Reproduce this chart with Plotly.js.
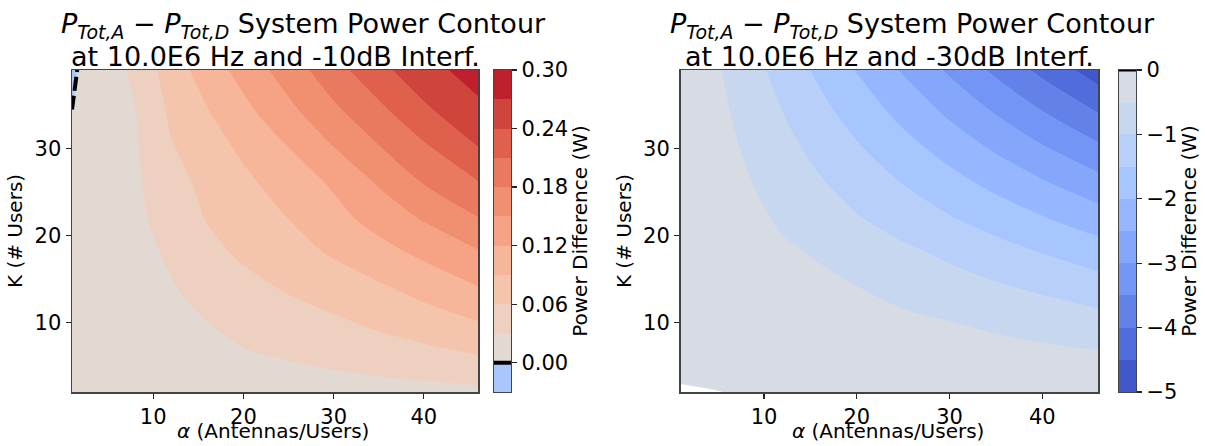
<!DOCTYPE html>
<html>
<head>
<meta charset="utf-8">
<script src="https://cdn.plot.ly/plotly-3.0.1.min.js"></script>
<style>
html,body{margin:0;padding:0;background:#ffffff;}
#chart{width:1205px;height:446px;}
</style>
</head>
<body>
<div id="chart"></div>
<script>
// ---- data ----
const alphaVals = [1, 4, 8, 12, 16, 20, 25, 30, 35, 40, 46];   // α (Antennas/Users)
const usersK    = [2, 4, 7, 10, 14, 18, 22, 26, 30, 34, 39];    // K (# Users)

// Left panel: power difference (W), -10 dB interference (rows follow usersK)
const diffMinus10dB = [
  [0.0005, 0.0020, 0.0040, 0.0060, 0.0080, 0.0100, 0.0125, 0.0150, 0.0175, 0.0200, 0.0234],
  [0.0010, 0.0037, 0.0073, 0.0109, 0.0145, 0.0181, 0.0226, 0.0271, 0.0315, 0.0357, 0.0408],
  [0.0020, 0.0064, 0.0122, 0.0180, 0.0239, 0.0297, 0.0363, 0.0429, 0.0495, 0.0561, 0.0660],
  [0.0020, 0.0076, 0.0150, 0.0224, 0.0298, 0.0371, 0.0463, 0.0554, 0.0654, 0.0761, 0.0890],
  [0.0020, 0.0092, 0.0189, 0.0285, 0.0394, 0.0504, 0.0634, 0.0747, 0.0859, 0.1002, 0.1190],
  [0.0020, 0.0103, 0.0214, 0.0339, 0.0510, 0.0652, 0.0790, 0.0932, 0.1094, 0.1264, 0.1470],
  [0.0020, 0.0114, 0.0240, 0.0415, 0.0619, 0.0745, 0.0904, 0.1104, 0.1313, 0.1530, 0.1790],
  [0.0020, 0.0121, 0.0256, 0.0484, 0.0686, 0.0836, 0.1030, 0.1240, 0.1528, 0.1810, 0.2080],
  [0.0010, 0.0122, 0.0272, 0.0575, 0.0768, 0.0953, 0.1195, 0.1488, 0.1777, 0.2042, 0.2390],
  [0.0003, 0.0124, 0.0290, 0.0651, 0.0877, 0.1108, 0.1408, 0.1723, 0.2000, 0.2330, 0.2600],
  [-0.0030, 0.0125, 0.0359, 0.0752, 0.1040, 0.1309, 0.1647, 0.1980, 0.2323, 0.2572, 0.2850]
];

// Right panel: power difference (W), -30 dB interference (rows follow usersK)
const diffMinus30dB = [
  [0.010, 0.004, -0.006, -0.026, -0.035, -0.044, -0.055, -0.067, -0.078, -0.089, -0.103],
  [-0.012, -0.018, -0.041, -0.063, -0.085, -0.107, -0.135, -0.163, -0.191, -0.219, -0.252],
  [-0.013, -0.038, -0.084, -0.129, -0.175, -0.221, -0.278, -0.335, -0.393, -0.450, -0.519],
  [-0.015, -0.060, -0.132, -0.205, -0.270, -0.340, -0.410, -0.490, -0.580, -0.690, -0.822],
  [-0.017, -0.092, -0.204, -0.310, -0.410, -0.490, -0.640, -0.800, -0.940, -1.080, -1.268],
  [-0.019, -0.128, -0.283, -0.430, -0.540, -0.700, -0.900, -1.090, -1.300, -1.510, -1.753],
  [-0.021, -0.166, -0.366, -0.567, -0.767, -0.968, -1.219, -1.469, -1.720, -1.971, -2.272],
  [-0.024, -0.205, -0.454, -0.703, -0.952, -1.200, -1.511, -1.822, -2.133, -2.444, -2.818],
  [-0.027, -0.247, -0.546, -0.845, -1.145, -1.444, -1.818, -2.192, -2.566, -2.940, -3.389],
  [-0.030, -0.290, -0.642, -0.993, -1.345, -1.697, -2.136, -2.576, -3.015, -3.455, -3.983],
  [-0.034, -0.347, -0.767, -1.187, -1.607, -2.026, -2.551, -3.076, -3.601, -4.126, -4.756]
];

// contour levels (boundaries of the filled bands)
const levelsLeft  = [-0.03, 0, 0.03, 0.06, 0.09, 0.12, 0.15, 0.18, 0.21, 0.24, 0.27, 0.30];
const levelsRight = [-5, -4.5, -4, -3.5, -3, -2.5, -2, -1.5, -1, -0.5, 0];

// colorbar ticks
const cbTicksLeft  = [0, 0.06, 0.12, 0.18, 0.24, 0.30];
const cbLabelsLeft = ['0.00', '0.06', '0.12', '0.18', '0.24', '0.30'];
const cbTicksRight  = [-5, -4, -3, -2, -1, 0];
const cbLabelsRight = ['\u22125', '\u22124', '\u22123', '\u22122', '\u22121', '0'];

const xTicks = [10, 20, 30, 40];
const yTicks = [10, 20, 30];

// band colours (bottom band to top band)
const colorsLeft = ['#aac7fd', '#e3d9d3', '#eed0c0', '#f5c4ac', '#f7b599', '#f6a385',
                    '#f18f71', '#e9795f', '#de604d', '#cf453c', '#be212d'];
const colorsRight = ['#4257ca', '#516ddb', '#6282ea', '#7395f5', '#84a7fc',
                     '#96b7ff', '#a7c5fe', '#b8d0f9', '#c8d7f0', '#d7dbe4'];

function bandScale(cols) {
  return cols.map((c, i) => [i / (cols.length - 1), c]);
}
// inner levels for the contour trace: all boundaries except the outer two
function contourSpec(levels) {
  const inner = levels.slice(1, -1);
  return {start: inner[0], end: inner[inner.length - 1], size: levels[1] - levels[0],
          coloring: 'fill', showlines: false};
}

// ---- layout helpers (pixels -> paper) ----
const W = 1205, H = 446;
const px = v => v / W;
const py = v => 1 - v / H;

const FONT = 'DejaVu Sans, Liberation Sans, sans-serif';
const TICK = 21, LABEL = 20, TITLE = 27;
const AXC = '#444';

const traces = [
  {
    type: 'contour', x: alphaVals, y: usersK, z: diffMinus10dB,
    xaxis: 'x', yaxis: 'y',
    autocontour: false, contours: contourSpec(levelsLeft),
    colorscale: bandScale(colorsLeft),
    line: {width: 0, smoothing: 1},
    showscale: false, hoverinfo: 'skip'
  },
  {
    type: 'contour', x: alphaVals, y: usersK, z: diffMinus10dB,
    xaxis: 'x', yaxis: 'y',
    autocontour: false, contours: {start: 0, end: 0, size: 1, coloring: 'none', showlines: true},
    line: {color: '#000000', width: 4, dash: '14px,5px', smoothing: 1},
    showscale: false, hoverinfo: 'skip'
  },
  {
    type: 'contour', x: alphaVals, y: usersK, z: diffMinus30dB,
    xaxis: 'x2', yaxis: 'y2',
    autocontour: false, contours: contourSpec(levelsRight),
    colorscale: bandScale(colorsRight),
    line: {width: 0, smoothing: 1},
    showscale: false, hoverinfo: 'skip'
  },
  {
    type: 'contour', x: alphaVals, y: usersK, z: diffMinus30dB,
    xaxis: 'x2', yaxis: 'y2',
    contours: {type: 'constraint', operation: '<', value: 0},
    fillcolor: '#ffffff', line: {width: 0, smoothing: 1},
    showscale: false, hoverinfo: 'skip'
  },
  // colour bars drawn as band heatmaps on their own axes
  {
    type: 'heatmap', x: [0], y: levelsLeft,
    z: colorsLeft.map((c, i) => [i]), zmin: 0, zmax: colorsLeft.length - 1,
    colorscale: bandScale(colorsLeft), showscale: false,
    xaxis: 'x3', yaxis: 'y3', hoverinfo: 'skip'
  },
  {
    type: 'heatmap', x: [0], y: levelsRight,
    z: colorsRight.map((c, i) => [i]), zmin: 0, zmax: colorsRight.length - 1,
    colorscale: bandScale(colorsRight), showscale: false,
    xaxis: 'x4', yaxis: 'y4', hoverinfo: 'skip'
  }
];

function xAxis(domain, anchor) {
  return {
    domain: domain, anchor: anchor, range: [1, 46], tickvals: xTicks,
    ticks: 'outside', ticklen: 5, tickwidth: 1.2, tickcolor: '#222',
    showline: true, mirror: true, linecolor: AXC, linewidth: 1.5,
    showgrid: false, zeroline: false, automargin: false,
    tickfont: {size: TICK, family: FONT, color: '#000'}
  };
}
function yAxis(domain, anchor) {
  return {
    domain: domain, anchor: anchor, range: [2, 39], tickvals: yTicks,
    ticks: 'outside', ticklen: 5, tickwidth: 1.2, tickcolor: '#222',
    showline: true, mirror: true, linecolor: AXC, linewidth: 1.5,
    showgrid: false, zeroline: false, automargin: false,
    tickfont: {size: TICK, family: FONT, color: '#000'},
    title: {text: 'K (# Users)', font: {size: LABEL, family: FONT, color: '#000'}, standoff: 6}
  };
}
function cbX(domain, anchor) {
  return {domain: domain, anchor: anchor, range: [-0.5, 0.5], showticklabels: false, ticks: '',
          showline: true, mirror: true, linecolor: AXC, linewidth: 1.2, showgrid: false, zeroline: false,
          automargin: false};
}
function cbY(domain, anchor, levels, tickvals, ticktext) {
  return {domain: domain, anchor: anchor, side: 'right', range: [levels[0], levels[levels.length - 1]],
          tickvals: tickvals, ticktext: ticktext,
          ticks: 'outside', ticklen: 5, tickwidth: 1.2, tickcolor: '#222',
          showline: true, mirror: true, linecolor: AXC, linewidth: 1.2, showgrid: false, zeroline: false,
          automargin: false,
          tickfont: {size: TICK, family: FONT, color: '#000'},
          title: {text: 'Power Difference (W)', font: {size: LABEL, family: FONT, color: '#000'}, standoff: 3}};
}

const yDom = [py(392), py(70)];
const titleMain = '<i>P</i><sub><i>Tot,A</i></sub> \u2212 <i>P</i><sub><i>Tot,D</i></sub> System Power Contour';
const xTitle = '<i>\u03b1</i> (Antennas/Users)';

function note(xPix, yPix, text, size, yanchor) {
  return {xref: 'paper', yref: 'paper', x: px(xPix), y: py(yPix), xanchor: 'center', yanchor: yanchor || 'middle',
          text: text, showarrow: false, font: {size: size, family: FONT, color: '#000'}};
}

const layout = {
  width: W, height: H,
  margin: {l: 0, r: 0, t: 0, b: 0},
  paper_bgcolor: '#ffffff', plot_bgcolor: '#ffffff',
  font: {family: FONT, size: TICK, color: '#000'},
  showlegend: false,
  xaxis: xAxis([px(72), px(478)], 'y'),
  yaxis: yAxis(yDom, 'x'),
  xaxis2: xAxis([px(680.5), px(1098)], 'y2'),
  yaxis2: yAxis(yDom, 'x2'),
  xaxis3: cbX([px(494), px(511)], 'y3'),
  yaxis3: cbY(yDom, 'x3', levelsLeft, cbTicksLeft, cbLabelsLeft),
  xaxis4: cbX([px(1119), px(1136)], 'y4'),
  yaxis4: cbY(yDom, 'x4', levelsRight, cbTicksRight, cbLabelsRight),
  annotations: [
    note(303, 25, titleMain, TITLE),
    note(275, 56, 'at 10.0E6 Hz and -10dB Interf.', TITLE),
    note(912, 25, titleMain, TITLE),
    note(889, 56, 'at 10.0E6 Hz and -30dB Interf.', TITLE),
    note(273, 445, xTitle, LABEL, 'bottom'),
    note(888, 445, xTitle, LABEL, 'bottom')
  ],
  shapes: [
    {type: 'line', xref: 'x3', yref: 'y3', x0: -0.5, x1: 0.75, y0: 0, y1: 0,
     line: {color: '#000', width: 4}},
    {type: 'line', xref: 'x4', yref: 'y4', x0: -0.5, x1: 0.6, y0: 0, y1: 0,
     line: {color: '#000', width: 3}}
  ]
};

Plotly.newPlot('chart', traces, layout, {displayModeBar: false, staticPlot: true});
</script>
</body>
</html>
